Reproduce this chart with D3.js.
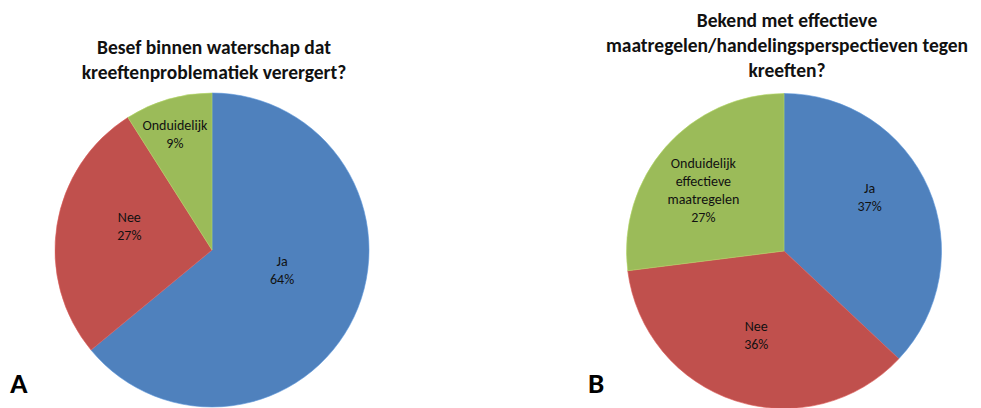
<!DOCTYPE html>
<html>
<head>
<meta charset="utf-8">
<script src="https://cdn.jsdelivr.net/npm/d3@7"></script>
<style>
  html, body { margin: 0; padding: 0; background: #fff; }
  svg { display: block; }
  text { font-family: Carlito, Lato, "Open Sans", sans-serif; fill: #111; }
</style>
</head>
<body>
<svg id="chart" width="981" height="408"></svg>
<script>
// ---- Data ----
const categoriesA = ["Ja", "Nee", "Onduidelijk"];
const valuesA = [64, 27, 9];
const labelsA = [["Ja", "64%"], ["Nee", "27%"], ["Onduidelijk", "9%"]];
const titleA = ["Besef binnen waterschap dat", "kreeftenproblematiek verergert?"];

const categoriesB = ["Ja", "Nee", "Onduidelijk effectieve maatregelen"];
const valuesB = [37, 36, 27];
const labelsB = [["Ja", "37%"], ["Nee", "36%"], ["Onduidelijk", "effectieve", "maatregelen", "27%"]];
const titleB = ["Bekend met effectieve", "maatregelen/handelingsperspectieven tegen", "kreeften?"];

const colors = ["#4F81BD", "#C0504D", "#9BBB59"];

// ---- Layout ----
const svg = d3.select("#chart");

const panels = [
  { cats: categoriesA, vals: valuesA, labels: labelsA, title: titleA, letter: "A",
    cx: 212, cy: 250, r: 157, titleX: 214, titleY: 47, letterX: 10,
    // label placement: [angle offset deg, distance px]
    lab: [[-9, 73], [7, 86], [-1.5, 122]] },
  { cats: categoriesB, vals: valuesB, labels: labelsB, title: titleB, letter: "B",
    cx: 784, cy: 251, r: 157.5, titleX: 787, titleY: 20, letterX: 588,
    lab: [[-8.7, 101], [0.4, 88], [-4.4, 101]] }
];

const lineH = 25;

panels.forEach(p => {
  const pie = d3.pie().sort(null).value(d => d)(p.vals);
  const arc = d3.arc().innerRadius(0).outerRadius(p.r);
  const g = svg.append("g").attr("transform", `translate(${p.cx},${p.cy})`);

  g.selectAll("path.slice")
    .data(pie)
    .join("path")
    .attr("class", "slice")
    .attr("d", arc)
    .attr("fill", (d, i) => colors[i])
    .attr("stroke", (d, i) => d3.color(colors[i]).brighter(0.4))
    .attr("stroke-width", 0.6);

  pie.forEach((d, i) => {
    const mid = (d.startAngle + d.endAngle) / 2 + p.lab[i][0] * Math.PI / 180;
    const dist = p.lab[i][1];
    const x = Math.sin(mid) * dist;
    const y = -Math.cos(mid) * dist;
    const lines = p.labels[i];
    const lh = 18;
    const t = g.append("text")
      .attr("text-anchor", "middle")
      .attr("font-size", 14)
      .attr("x", x)
      .attr("y", y - (lines.length - 1) * lh / 2 + 5);
    lines.forEach((ln, k) => {
      t.append("tspan").attr("x", x).attr("dy", k === 0 ? 0 : lh).text(ln);
    });
  });

  const tt = svg.append("text")
    .attr("text-anchor", "middle")
    .attr("font-size", 19.5)
    .attr("font-weight", "bold")
    .attr("x", p.titleX)
    .attr("y", p.titleY + 7);
  p.title.forEach((ln, k) => {
    tt.append("tspan").attr("x", p.titleX).attr("dy", k === 0 ? 0 : lineH).text(ln);
  });

  svg.append("text")
    .attr("x", p.letterX)
    .attr("y", 393)
    .attr("font-size", 29)
    .attr("font-weight", "bold")
    .style("fill", "#000")
    .text(p.letter);
});
</script>
</body>
</html>
